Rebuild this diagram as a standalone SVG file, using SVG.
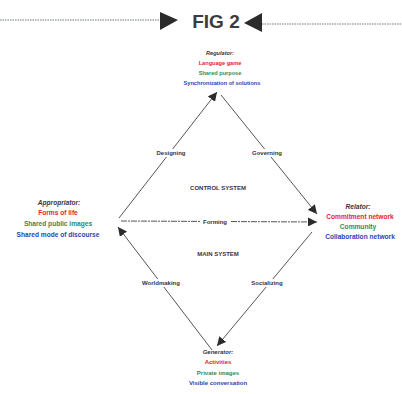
<svg xmlns="http://www.w3.org/2000/svg" width="402" height="394" viewBox="0 0 402 394">
  <defs>
    <marker id="arrow" viewBox="0 0 10 10" refX="10" refY="5" markerWidth="9" markerHeight="9" markerUnits="userSpaceOnUse" orient="auto">
      <path d="M0,0 L10,5 L0,10 Z" fill="#2b2b2b"/>
    </marker>
    <style>
      text { font-family: "Liberation Sans", Arial, sans-serif; font-weight: bold; text-anchor: middle; }
      .head { fill: #3a3340; font-style: italic; }
      .red { fill: #e0262c; }
      .green { fill: #2f8a5c; }
      .blue { fill: #2845b4; }
      .edge { fill: #3a3340; font-size: 6px; }
      .sys { fill: #3a3340; font-size: 6px; }
      .pad { fill: #ffffff; }
      .link { stroke: #555; stroke-width: 1; fill: none; marker-end: url(#arrow); }
      .dots { stroke: #4a5a4e; stroke-width: 0.8; stroke-dasharray: 1.5 1; fill: none; }
    </style>
  </defs>
  <rect width="402" height="394" fill="#ffffff"/>

  <!-- figure title with pointer arrows -->
  <g id="title">
    <line class="dots" x1="0" y1="20" x2="160" y2="20"/>
    <line class="dots" x1="262" y1="24" x2="402" y2="24"/>
    <path d="M160,12 L178,20 L160,30 Z" fill="#2b2b2b"/>
    <path d="M262,13 L244,23 L262,32 Z" fill="#2b2b2b"/>
    <text x="216" y="28" font-size="19" fill="#3c3c3c">FIG 2</text>
  </g>

  <!-- connectors -->
  <g id="connectors">
    <line class="link" x1="119" y1="218" x2="217" y2="92"/>
    <line class="link" x1="221" y1="95" x2="317" y2="214"/>
    <line class="link" x1="121" y1="221" x2="317" y2="222" stroke="#3f5548" stroke-dasharray="6 1 2 1"/>
    <line class="link" x1="312" y1="232" x2="217" y2="346"/>
    <line class="link" x1="212" y1="350" x2="118" y2="227"/>
  </g>

  <!-- connector labels, each on a white pad over its line -->
  <g id="edge-labels">
    <rect class="pad" x="152" y="149" width="38" height="8"/>
    <rect class="pad" x="248" y="149" width="38" height="8"/>
    <rect class="pad" x="200" y="218" width="30" height="8"/>
    <rect class="pad" x="137" y="279" width="48" height="8"/>
    <rect class="pad" x="249" y="279" width="37" height="8"/>
    <text class="edge" x="171" y="155">Designing</text>
    <text class="edge" x="267" y="155">Governing</text>
    <text class="edge" x="215" y="224">Forming</text>
    <text class="edge" x="161" y="285">Worldmaking</text>
    <text class="edge" x="267" y="285">Socializing</text>
  </g>

  <g id="system-labels">
    <text class="sys" x="218" y="190">CONTROL SYSTEM</text>
    <text class="sys" x="218" y="256">MAIN SYSTEM</text>
  </g>

  <g id="node-regulator" font-size="5.6">
    <text class="head" x="220" y="55">Regulator:</text>
    <text class="red" x="220" y="65">Language game</text>
    <text class="green" x="220" y="75">Shared purpose</text>
    <text class="blue" x="222" y="85">Synchronization of solutions</text>
  </g>

  <g id="node-appropriator" font-size="6.6">
    <text class="head" x="59" y="205">Appropriator:</text>
    <text class="red" x="58" y="215">Forms of life</text>
    <text class="green" x="58" y="226">Shared public images</text>
    <text class="blue" x="58" y="237">Shared mode of discourse</text>
  </g>

  <g id="node-relator" font-size="6.6">
    <text class="head" x="358" y="209">Relator:</text>
    <text class="red" x="360" y="219">Commitment network</text>
    <text class="green" x="358" y="229">Community</text>
    <text class="blue" x="360" y="239">Collaboration network</text>
  </g>

  <g id="node-generator" font-size="6">
    <text class="head" x="218" y="354">Generator:</text>
    <text class="red" x="218" y="364">Activities</text>
    <text class="green" x="218" y="375">Private images</text>
    <text class="blue" x="218" y="385">Visible conversation</text>
  </g>
</svg>
